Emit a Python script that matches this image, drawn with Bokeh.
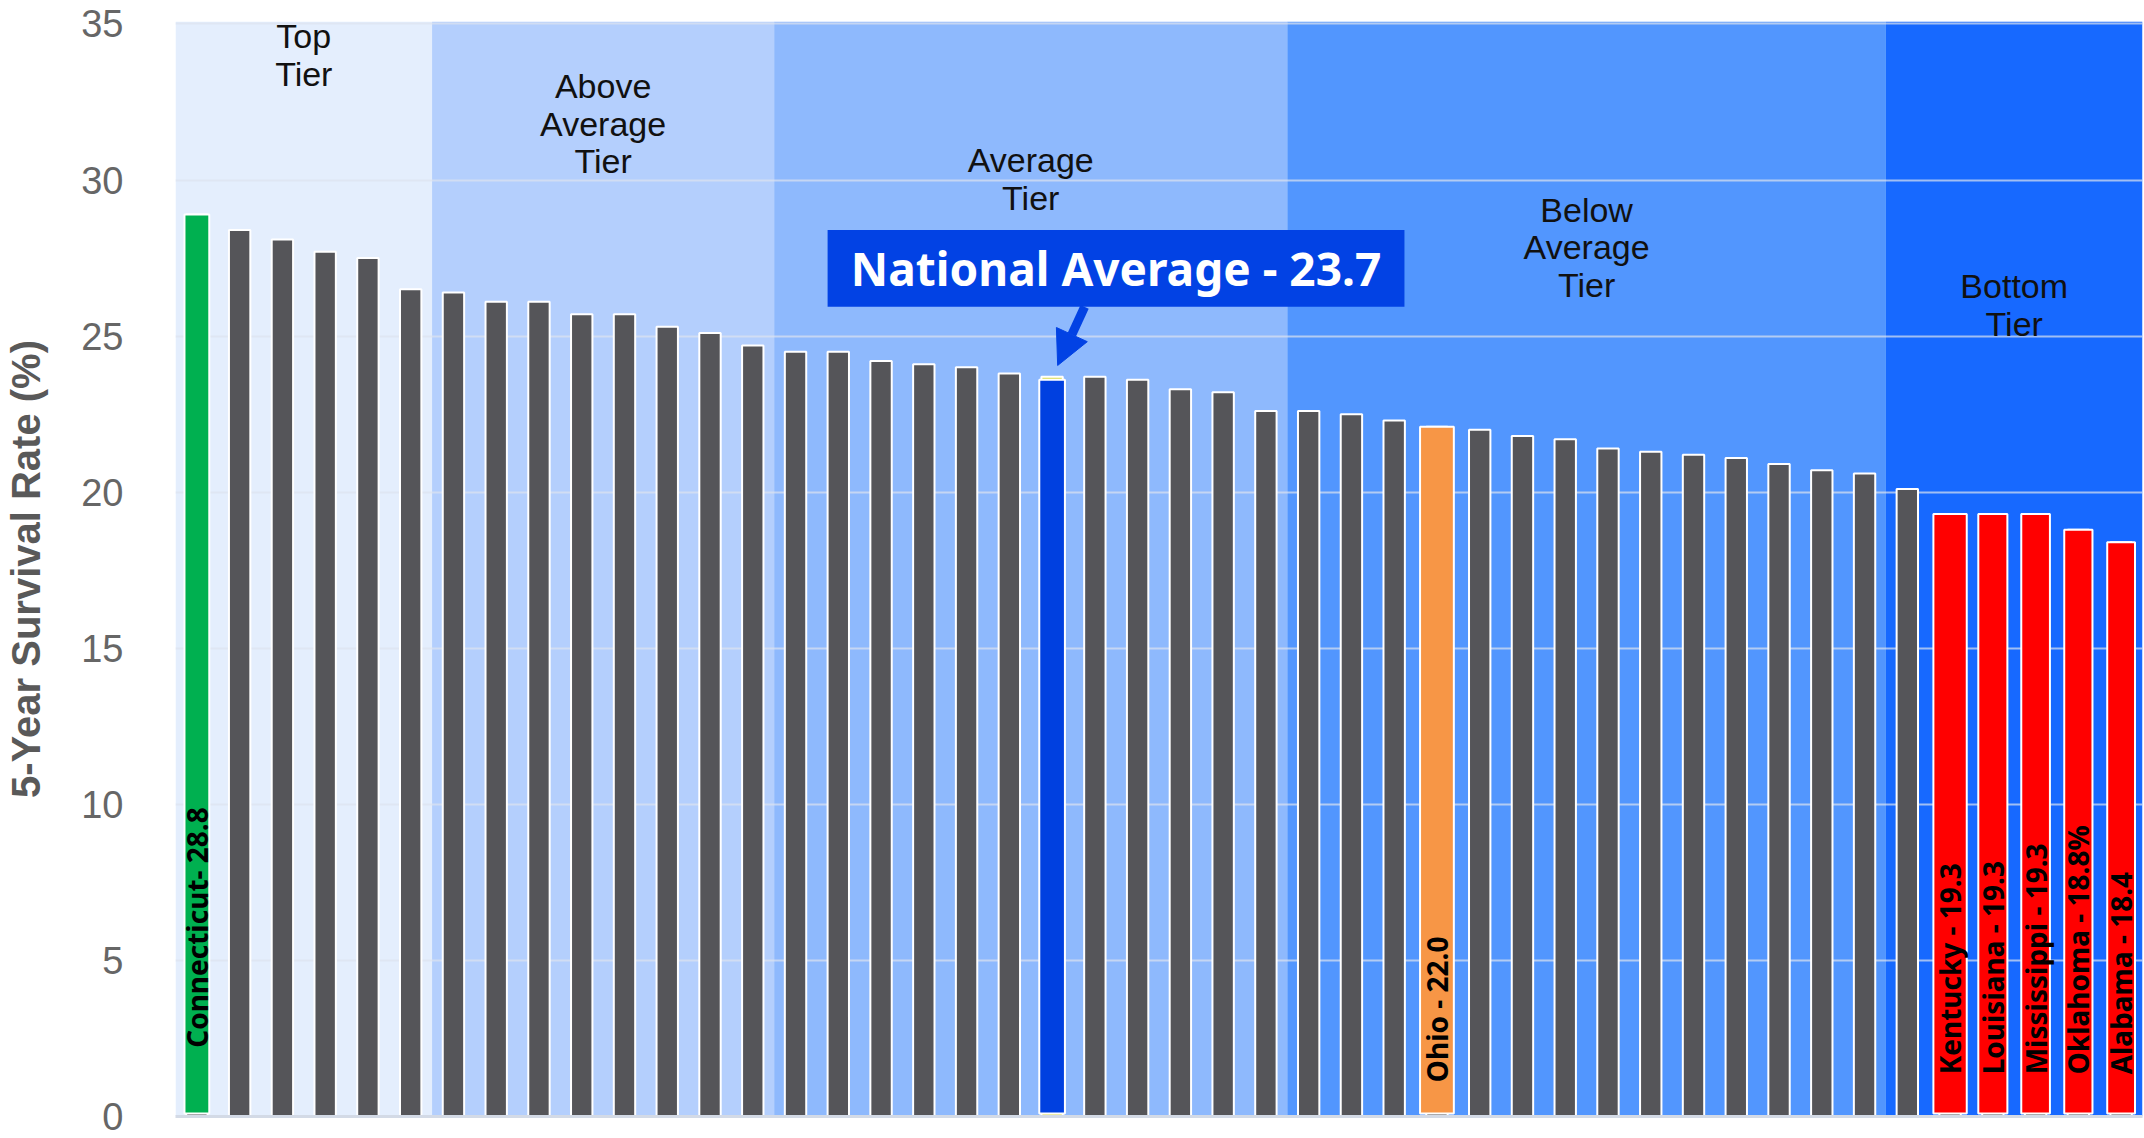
import numpy as np
from bokeh.plotting import figure
from bokeh.models import Range1d, ColumnDataSource, Arrow, NormalHead, FixedTicker
from bokeh.core.properties import value
from bokeh.embed import file_html
from bokeh.resources import INLINE

# ---------------- data ----------------
values = [28.9, 28.4, 28.1, 27.7, 27.5, 26.5, 26.4, 26.1, 26.1, 25.7,
          25.7, 25.3, 25.1, 24.7, 24.5, 24.5, 24.2, 24.1, 24.0, 23.8,
          23.7, 23.7, 23.6, 23.3, 23.2, 22.6, 22.6, 22.5, 22.3, 22.1,
          22.0, 21.8, 21.7, 21.4, 21.3, 21.2, 21.1, 20.9, 20.7, 20.6,
          20.1, 19.3, 19.3, 19.3, 18.8, 18.4]
national_avg = 23.7
national_idx = 20

tier_names = [["Top", "Tier"], ["Above", "Average", "Tier"], ["Average", "Tier"],
              ["Below", "Average", "Tier"], ["Bottom", "Tier"]]
tier_counts = [6, 8, 12, 14, 6]

hl_index = [0, 20, 29, 41, 42, 43, 44, 45]
hl_values = [28.9, 23.6, 22.1, 19.3, 19.3, 19.3, 18.8, 18.4]
hl_labels = ["Connecticut- 28.8", "", "Ohio - 22.0", "Kentucky - 19.3", "Louisiana - 19.3",
             "Mississippi -  19.3", "Oklahoma - 18.8%", "Alabama - 18.4"]
y_ticks = [0, 5, 10, 15, 20, 25, 30, 35]

# ---------------- styles ----------------
tier_colors = ["#E4EEFD", "#B4CFFD", "#8EB9FD", "#5296FE", "#1769FF"]
hl_colors = ["#00B050", "#0040E0", "#F79646", "#FF0000", "#FF0000", "#FF0000", "#FF0000", "#FF0000"]
hl_widths = [0.58, 0.6, 0.79, 0.78, 0.68, 0.67, 0.66, 0.65]
hl_label_start = [2.2, 0, 1.1, 1.35, 1.35, 1.35, 1.35, 1.35]
tier_label_top = [34.6, 33.0, 30.64, 29.04, 26.6]
line_step = 1.2
BLUE = "#0242E4"
Y_END = 35.08

n = len(values)
xs = np.arange(n) + 0.5

p = figure(width=2144, height=1138, output_backend="svg", toolbar_location=None,
           x_range=Range1d(0, n), y_range=Range1d(0, Y_END),
           min_border_left=175, min_border_right=2, min_border_top=21, min_border_bottom=22,
           background_fill_color="white", border_fill_color="white")
p.outline_line_color = None

# tier backgrounds
edges = np.concatenate([[0], np.cumsum(tier_counts)])
tsrc = ColumnDataSource(dict(left=edges[:-1], right=edges[1:], color=tier_colors))
p.quad(left="left", right="right", bottom=0, top=Y_END, fill_color="color", line_color=None,
       source=tsrc, level="image")

# grid
p.ygrid.ticker = FixedTicker(ticks=y_ticks)
p.ygrid.grid_line_color = "#DDE3EE"
p.ygrid.grid_line_alpha = 0.7
p.ygrid.grid_line_width = 2
p.xgrid.visible = False

# base bars
base_colors = ["#555559"] * n
base_colors[national_idx] = "#D8D84A"
bsrc = ColumnDataSource(dict(x=xs, top=values, color=base_colors))
p.vbar(x="x", top="top", bottom=0, width=0.5, fill_color="color", line_color="white",
       line_width=2, source=bsrc)

# highlighted bars
hsrc = ColumnDataSource(dict(x=xs[hl_index], top=hl_values, color=hl_colors, w=hl_widths,
                             label=hl_labels, ly=hl_label_start))
p.vbar(x="x", top="top", bottom=0.1, width="w", fill_color="color", line_color="white",
       line_width=2, source=hsrc)
p.text(x="x", y="ly", text="label", angle=np.pi / 2, text_align="left", text_baseline="middle",
       text_font=value("Noto Sans"), text_font_style="bold", text_font_size="28px",
       text_color="black", source=hsrc)

# tier labels
lx, ly, lt = [], [], []
centers = (edges[:-1] + edges[1:]) / 2
for c, top, lines in zip(centers, tier_label_top, tier_names):
    for k, t in enumerate(lines):
        lx.append(c)
        ly.append(top - k * line_step)
        lt.append(t)
p.text(x=lx, y=ly, text=lt, text_align="center", text_baseline="middle",
       text_font=value("Liberation Sans"), text_font_size="34px", text_color="#111111")

# national average call-out
p.quad(left=[15.25], right=[28.74], bottom=[25.94], top=[28.4], fill_color=BLUE, line_color=None)
p.text(x=[21.995], y=[27.17], text=[f"National Average - {national_avg}"], text_align="center",
       text_baseline="middle", text_font=value("Noto Sans"), text_font_style="bold",
       text_font_size="46px", text_color="white")
p.add_layout(Arrow(end=NormalHead(size=34, fill_color=BLUE, line_color=BLUE),
                   x_start=21.26, y_start=25.94, x_end=20.63, y_end=24.06,
                   line_color=BLUE, line_width=9))

# axes
p.yaxis.ticker = FixedTicker(ticks=y_ticks)
p.yaxis.axis_line_color = None
p.yaxis.major_tick_line_color = None
p.yaxis.minor_tick_line_color = None
p.yaxis.major_label_text_font = "Liberation Sans"
p.yaxis.major_label_text_font_size = "38px"
p.yaxis.major_label_text_color = "#666666"
p.yaxis.major_label_standoff = 46
p.yaxis.axis_label = "5-Year Survival Rate (%)"
p.yaxis.axis_label_text_font = "Liberation Sans"
p.yaxis.axis_label_text_font_size = "40px"
p.yaxis.axis_label_text_font_style = "bold"
p.yaxis.axis_label_text_color = "#595959"
p.yaxis.axis_label_standoff = 30

p.xaxis.ticker = FixedTicker(ticks=[])
p.xaxis.major_tick_line_color = None
p.xaxis.minor_tick_line_color = None
p.xaxis.major_label_text_font_size = "0px"
p.xaxis.axis_line_color = "#D3DAE6"
p.xaxis.axis_line_width = 3

open("out.html", "w").write(file_html(p, INLINE))
